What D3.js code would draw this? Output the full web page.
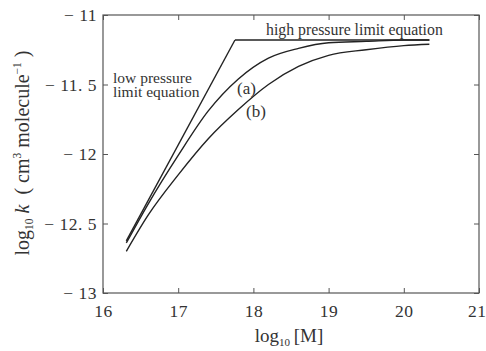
<!DOCTYPE html>
<html>
<head>
<meta charset="utf-8">
<script src="https://cdn.jsdelivr.net/npm/d3@7"></script>
<style>
  body { margin: 0; background: #fff; }
  text { font-family: "Liberation Serif", "Times New Roman", Times, serif; fill: #333; }
  .curve { fill: none; stroke: #222; stroke-width: 1.4; }
</style>
</head>
<body>
<div id="chart"></div>
<script>
// data
const xTicks = [16, 17, 18, 19, 20, 21]
const yTicks = [-13, -12.5, -12, -11.5, -11]
const yTickLabels = ["\u2212 13", "\u2212 12. 5", "\u2212 12", "\u2212 11. 5", "\u2212 11"]

const lowLimit = [[16.31, -12.625], [17.755, -11.18]]
const highLimit = [[17.755, -11.18], [20.34, -11.18]]

const logM = [16.31, 16.6, 17.0, 17.4, 17.8, 18.2, 18.6, 19.0, 19.5, 20.0, 20.34]
const curveA = [-12.64, -12.36, -12.01, -11.69, -11.46, -11.31, -11.24, -11.20, -11.19, -11.18, -11.18]
const curveB = [-12.70, -12.44, -12.15, -11.89, -11.68, -11.50, -11.37, -11.29, -11.25, -11.22, -11.21]

const width = 486, height = 351
const margin = { top: 15, right: 7, bottom: 58, left: 103 }
const w = width - margin.left - margin.right
const h = height - margin.top - margin.bottom

const svg = d3.select('#chart').append('svg')
  .attr('width', width)
  .attr('height', height)

const chart = svg.append('g')
  .attr('transform', `translate(${margin.left}, ${margin.top})`)

const x = d3.scaleLinear().domain([16, 21]).range([0, w])
const y = d3.scaleLinear().domain([-13, -11]).range([h, 0])

// frame
chart.append('rect')
  .attr('width', w).attr('height', h)
  .attr('fill', 'none').attr('stroke', '#555').attr('stroke-width', 1.2)

// inner ticks on all sides
const tickLen = 5
chart.append('g')
  .attr('class', 'xaxis')
  .attr('transform', `translate(0, ${h})`)
  .call(d3.axisBottom(x).tickValues(xTicks).tickSize(-tickLen).tickPadding(12).tickFormat(d3.format('d')))
  .call(g => g.select('.domain').remove())
chart.append('g')
  .call(d3.axisTop(x).tickValues(xTicks).tickSize(-tickLen).tickFormat(''))
  .call(g => g.select('.domain').remove())
chart.append('g')
  .call(d3.axisLeft(y).tickValues(yTicks).tickSize(-tickLen).tickPadding(6)
    .tickFormat((d, i) => yTickLabels[i]))
  .call(g => g.select('.domain').remove())
chart.append('g')
  .attr('transform', `translate(${w}, 0)`)
  .call(d3.axisRight(y).tickValues(yTicks).tickSize(-tickLen).tickFormat(''))
  .call(g => g.select('.domain').remove())

chart.selectAll('.tick line').attr('stroke', '#555')
chart.selectAll('.tick text')
  .attr('font-family', null)
  .style('font-size', '17.5px')
  .style('letter-spacing', '0.5px')
  .style('white-space', 'pre')
  .attr('fill', '#333')

// last x label sits against the right edge
chart.select('.xaxis').selectAll('.tick').filter(d => d === 21)
  .select('text').attr('text-anchor', 'end').attr('x', 7)

// lines
const line = d3.line().x(d => x(d[0])).y(d => y(d[1]))
const smooth = d3.line().curve(d3.curveMonotoneX).x(d => x(d[0])).y(d => y(d[1]))

chart.append('path').datum(lowLimit).attr('class', 'curve').attr('d', line)
chart.append('path').datum(highLimit).attr('class', 'curve').attr('d', line)
chart.append('path').datum(logM.map((m, i) => [m, curveA[i]])).attr('class', 'curve').attr('d', smooth)
chart.append('path').datum(logM.map((m, i) => [m, curveB[i]])).attr('class', 'curve').attr('d', smooth)

// annotations
chart.append('text').attr('x', 10).attr('y', 68).style('font-size', '15.5px').text('low pressure')
chart.append('text').attr('x', 10).attr('y', 82).style('font-size', '15.5px').text('limit equation')
chart.append('text').attr('x', 163).attr('y', 20).style('font-size', '15.8px').text('high pressure limit equation')
chart.append('text').attr('x', 134).attr('y', 79).style('font-size', '17px').text('(a)')
chart.append('text').attr('x', 143).attr('y', 102).style('font-size', '17px').text('(b)')

// axis titles
const xt = svg.append('text')
  .attr('x', 289).attr('y', 342)
  .attr('text-anchor', 'middle')
  .style('font-size', '19px')
xt.append('tspan').text('log')
xt.append('tspan').attr('dy', 4).style('font-size', '11px').text('10')
xt.append('tspan').attr('dy', -4).text('\u2009[M]')

const yt = svg.append('text')
  .attr('transform', 'translate(29, 153) rotate(-90)')
  .attr('text-anchor', 'middle')
  .style('font-size', '20px')
  .style('white-space', 'pre')
yt.append('tspan').text('log')
yt.append('tspan').attr('dy', 4).style('font-size', '11.5px').text('10')
yt.append('tspan').attr('dy', -4).style('font-style', 'italic').text(' k')
yt.append('tspan').text('  ( cm')
yt.append('tspan').attr('dy', -8).style('font-size', '11.5px').text('3')
yt.append('tspan').attr('dy', 8).text(' molecule')
yt.append('tspan').attr('dy', -8).style('font-size', '11.5px').text('\u22121')
yt.append('tspan').attr('dy', 8).text(' )')
</script>
</body>
</html>
